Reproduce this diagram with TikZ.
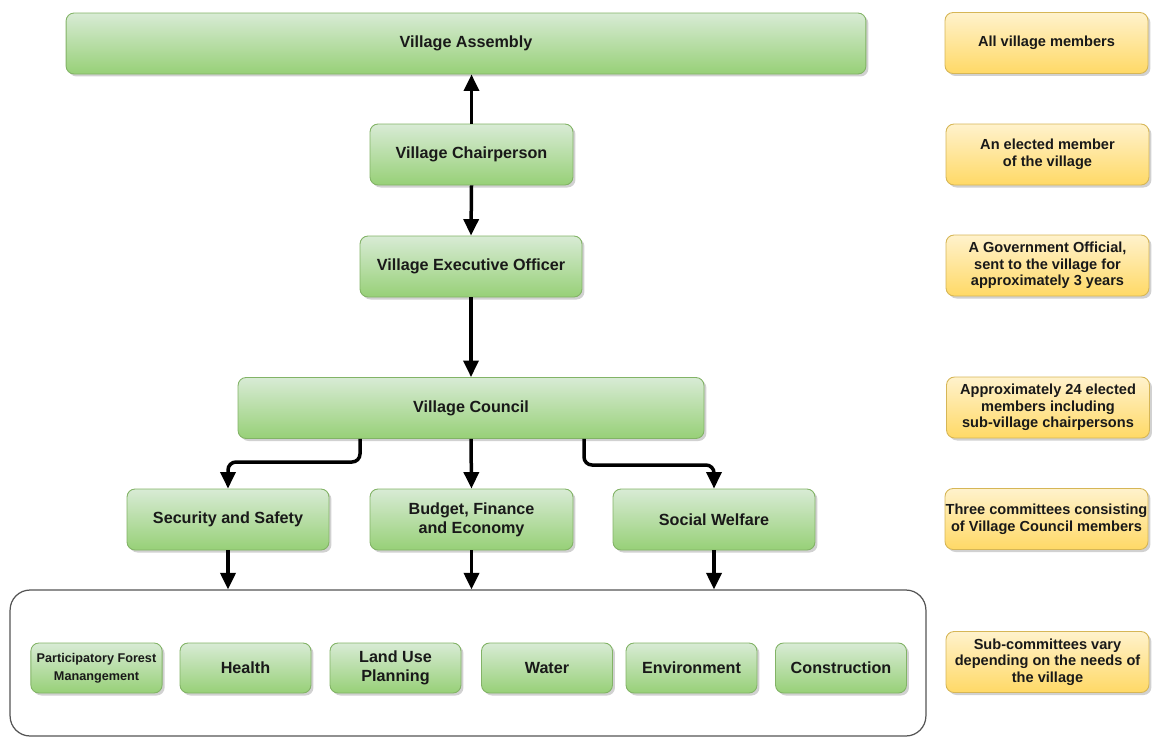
\documentclass[tikz,border=0pt]{standalone}
\usepackage{fontspec}
\setmainfont{Liberation Sans}
\usetikzlibrary{shadows,arrows.meta}
\definecolor{gtop}{HTML}{D8EBD5}
\definecolor{gbot}{HTML}{97D077}
\definecolor{gstroke}{HTML}{82B366}
\definecolor{ytop}{HTML}{FFF2CC}
\definecolor{ybot}{HTML}{FFD966}
\definecolor{ystroke}{HTML}{D6B656}
\definecolor{contstroke}{HTML}{555555}
\tikzset{
  boxbase/.style={rectangle, rounded corners=0.16cm, line width=0.5pt, align=center,
    font=\fontsize{9.2}{11}\selectfont\bfseries, text=black!90,
    drop shadow={shadow xshift=0.05cm, shadow yshift=-0.05cm, opacity=0.3, fill=black!60}},
  gbox/.style={boxbase, draw=gstroke, top color=gtop, bottom color=gbot, minimum height=1.22cm},
  subbox/.style={boxbase, draw=gstroke, top color=gtop, bottom color=gbot, minimum height=1.0cm, minimum width=2.62cm},
  ybox/.style={boxbase, draw=ystroke, top color=ytop, bottom color=ybot, minimum height=1.22cm, minimum width=4.06cm,
    font=\fontsize{8.3}{9.5}\selectfont\bfseries},
  arr/.style={line width=0.07cm, -{Triangle[width=0.3cm,length=0.33cm]}},
  contbox/.style={draw=contstroke, line width=0.7pt, rounded corners=0.4cm, minimum width=18.32cm, minimum height=2.92cm}
}
\begin{document}
\begin{tikzpicture}[x=0.02cm,y=-0.02cm]
\useasboundingbox (0,0) rectangle (1156,738);
% container
\node[contbox] (cont) at (468,663) {};
% main chain
\node[gbox, minimum width=16cm] (asm) at (466,43.5) {Village Assembly};
\node[gbox, minimum width=4.06cm] (chair) at (471.5,154.5) {Village Chairperson};
\node[gbox, minimum width=4.44cm] (exec) at (471,266.5) {Village Executive Officer};
\node[gbox, minimum width=9.32cm] (council) at (471,408) {Village Council};
\node[gbox, minimum width=4.04cm] (sec) at (228,519.5) {Security and Safety};
\node[gbox, minimum width=4.06cm] (bud) at (471.5,519.5) {Budget, Finance\\and Economy};
\node[gbox, minimum width=4.04cm] (soc) at (714,519.5) {Social Welfare};
% sub-committees
\node[subbox, font=\fontsize{7.2}{10}\selectfont\bfseries] (pfm) at (96.5,668) {Participatory Forest\\Manangement};
\node[subbox] (hea) at (245.5,668) {Health};
\node[subbox] (land) at (395.5,668) {Land Use\\Planning};
\node[subbox] (wat) at (547,668) {Water};
\node[subbox] (env) at (691.5,668) {Environment};
\node[subbox] (con) at (841,668) {Construction};
% yellow notes
\node[ybox] (y1) at (1046.5,43) {All village members};
\node[ybox] (y2) at (1047.5,154.5) {An elected member\\of the village};
\node[ybox] (y3) at (1047.5,265.5) {A Government Official,\\sent to the village for\\approximately 3 years};
\node[ybox] (y4) at (1048,407.5) {Approximately 24 elected\\members including\\sub-village chairpersons};
\node[ybox, inner xsep=0pt] (y5) at (1046.5,519) {Three committees consisting\\of Village Council members};
\node[ybox] (y6) at (1047.5,662) {Sub-committees vary\\depending on the needs of\\the village};
% connectors
\draw[arr] (chair.north) -- (chair.north |- asm.south);
\draw[arr] (chair.south) -- (exec.north);
\draw[arr] (exec.south) -- (council.north);
\coordinate (kL) at (360,462);
\coordinate (kR) at (584,465);
\draw[arr, rounded corners=0.16cm] (council.south -| kL) -- (kL) -| (sec.north);
\draw[arr] (council.south) -- (bud.north);
\draw[arr, rounded corners=0.16cm] (council.south -| kR) -- (kR) -| (soc.north);
\draw[arr] (sec.south) -- (sec.south |- cont.north);
\draw[arr] (bud.south) -- (bud.south |- cont.north);
\draw[arr] (soc.south) -- (soc.south |- cont.north);
\end{tikzpicture}
\end{document}
